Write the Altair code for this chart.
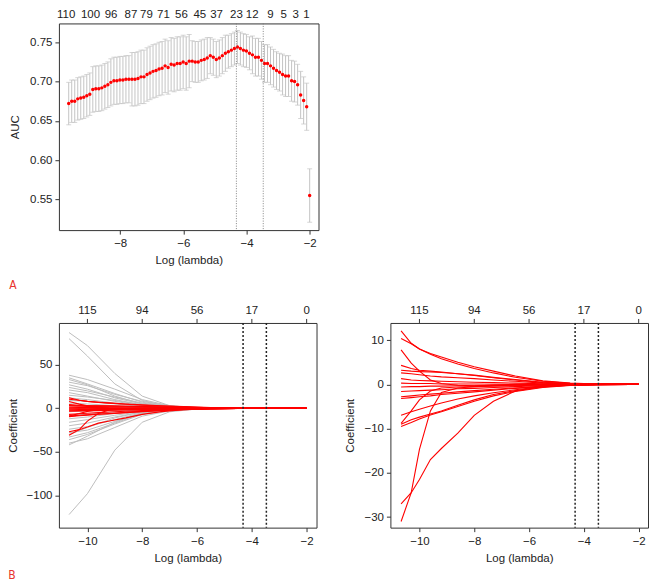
import altair as alt
import pandas as pd

FONT = "Liberation Sans, Arial, sans-serif"
LFONT = "Liberation Sans Narrow, DejaVu Sans Condensed, sans-serif"
FS = 11.5
INK = "#222222"

# ---------------- Panel A: cross-validated AUC ----------------
log_lambda = [-9.630, -9.535, -9.439, -9.344, -9.249, -9.153, -9.058, -8.962, -8.867, -8.772,
              -8.676, -8.581, -8.486, -8.390, -8.295, -8.199, -8.104, -8.009, -7.913, -7.818,
              -7.723, -7.627, -7.532, -7.436, -7.341, -7.246, -7.150, -7.055, -6.960, -6.864,
              -6.769, -6.673, -6.578, -6.483, -6.387, -6.292, -6.196, -6.101, -6.006, -5.910,
              -5.815, -5.720, -5.624, -5.529, -5.433, -5.338, -5.243, -5.147, -5.052, -4.957,
              -4.861, -4.766, -4.670, -4.575, -4.480, -4.384, -4.289, -4.194, -4.098, -4.003,
              -3.907, -3.812, -3.717, -3.621, -3.526, -3.431, -3.335, -3.240, -3.144, -3.049,
              -2.954, -2.858, -2.763, -2.668, -2.572, -2.477, -2.381, -2.286, -2.191, -2.095,
              -2.000]
auc = [0.672, 0.675, 0.675, 0.678, 0.679, 0.680, 0.682, 0.684, 0.690, 0.691,
       0.691, 0.692, 0.694, 0.696, 0.699, 0.701, 0.701, 0.702, 0.702, 0.703,
       0.703, 0.703, 0.703, 0.704, 0.706, 0.706, 0.709, 0.711, 0.713, 0.714,
       0.716, 0.717, 0.720, 0.718, 0.722, 0.721, 0.723, 0.723, 0.725, 0.723,
       0.726, 0.726, 0.725, 0.725, 0.727, 0.728, 0.730, 0.733, 0.731, 0.728,
       0.730, 0.733, 0.736, 0.738, 0.740, 0.742, 0.744, 0.742, 0.740, 0.739,
       0.736, 0.734, 0.731, 0.731, 0.727, 0.723, 0.723, 0.720, 0.717, 0.714,
       0.712, 0.709, 0.707, 0.707, 0.701, 0.700, 0.696, 0.683, 0.676, 0.668,
       0.555]
auc_se = [0.027, 0.027, 0.027, 0.027, 0.027, 0.027, 0.027, 0.027, 0.029, 0.029,
          0.029, 0.029, 0.029, 0.029, 0.030, 0.030, 0.030, 0.030, 0.030, 0.030,
          0.030, 0.034, 0.034, 0.034, 0.034, 0.034, 0.034, 0.034, 0.034, 0.034,
          0.034, 0.034, 0.034, 0.034, 0.034, 0.034, 0.034, 0.034, 0.034, 0.034,
          0.034, 0.026, 0.026, 0.026, 0.026, 0.026, 0.026, 0.023, 0.023, 0.023,
          0.023, 0.023, 0.023, 0.021, 0.021, 0.021, 0.021, 0.021, 0.021, 0.021,
          0.021, 0.024, 0.024, 0.024, 0.024, 0.024, 0.024, 0.024, 0.024, 0.024,
          0.024, 0.026, 0.026, 0.026, 0.026, 0.026, 0.026, 0.030, 0.030, 0.030,
          0.034]
top_a_pos = [-9.71, -8.94, -8.29, -7.66, -7.17, -6.63, -6.06, -5.48, -4.95, -4.32,
             -3.82, -3.24, -2.82, -2.44, -2.10]
top_a_lab = ["110", "100", "96", "87", "79", "71", "56", "45", "37", "23",
             "12", "9", "5", "3", "1"]
cut_lines = [-4.32, -3.47]

# ---------------- Panel B: coefficient paths ----------------
gray_x = [-10.67, -10.0, -9.0, -8.0, -7.0, -6.0, -5.5]
gray_paths = [
    [87, 72, 40, 14, 3, 0.5, 0],
    [80, 60, 28, 9, 2, 0.3, 0],
    [38, 33, 22, 10, 3, 0.5, 0],
    [35, 28, 17, 7, 2, 0.3, 0],
    [33, 27, 14, 5, 1.2, 0.2, 0],
    [30, 26, 16, 8, 2.5, 0.5, 0],
    [27, 22, 12, 5, 1.5, 0.3, 0],
    [24, 20, 13, 6, 2, 0.4, 0],
    [21, 18, 10, 4, 1, 0.2, 0],
    [18, 14, 8, 3, 1, 0.2, 0],
    [15, 13, 9, 4, 1.5, 0.3, 0],
    [12, 10, 6, 2.5, 0.8, 0.1, 0],
    [9, 8, 5, 2, 0.6, 0.1, 0],
    [6, 5, 3, 1.2, 0.4, 0.1, 0],
    [3, 3, 2, 1, 0.3, 0, 0],
    [-4, -3, -2, -1, -0.3, 0, 0],
    [-8, -7, -4, -1.5, -0.5, -0.1, 0],
    [-12, -10, -6, -2.5, -0.8, -0.1, 0],
    [-16, -13, -8, -3.5, -1, -0.2, 0],
    [-20, -17, -10, -4, -1.2, -0.2, 0],
    [-24, -21, -13, -5, -1.5, -0.3, 0],
    [-28, -25, -15, -6, -2, -0.4, 0],
    [-30, -22, -11, -4, -1, -0.2, 0],
    [-33, -28, -17, -6, -1.8, -0.3, 0],
    [-36, -30, -18, -7, -2, -0.4, 0],
    [-40, -35, -22, -9, -3, -0.6, 0],
    [-42, -32, -16, -5, -1.5, -0.3, 0],
    [-122, -98, -48, -16, -4, -0.8, 0],
]
red_x = [-10.67, -10.3, -10.0, -9.6, -9.2, -8.6, -8.0, -7.3, -6.5, -5.5, -4.5, -3.5, -2.3, -2.0]
red_paths = [
    [12.1, 9.3, 8.0, 7.0, 6.2, 5.0, 4.0, 3.0, 1.9, 0.8, 0.3, 0.1, 0, 0],
    [10.4, 9.2, 8.0, 6.8, 5.8, 4.6, 3.6, 2.6, 1.6, 0.7, 0.25, 0.05, 0, 0],
    [7.8, 4.8, 3.0, 1.0, 0.2, -0.2, -0.3, -0.2, -0.1, 0, 0, 0, 0, 0],
    [4.3, 3.6, 3.2, 3.0, 2.8, 2.4, 2.0, 1.5, 1.0, 0.4, 0.15, 0.05, 0, 0],
    [3.2, 3.0, 2.9, 2.8, 2.7, 2.4, 2.1, 1.6, 1.1, 0.5, 0.2, 0.05, 0, 0],
    [2.6, 2.4, 2.2, 1.9, 1.7, 1.5, 1.3, 1.0, 0.7, 0.3, 0.1, 0, 0, 0],
    [1.3, 1.0, 0.9, 0.8, 0.7, 0.6, 0.5, 0.4, 0.3, 0.15, 0.05, 0, 0, 0],
    [0.3, 0.2, 0.2, 0.2, 0.1, 0.1, 0.1, 0.05, 0, 0, 0, 0, 0, 0],
    [-0.6, -0.5, -0.5, -0.4, -0.4, -0.3, -0.3, -0.2, -0.1, -0.05, 0, 0, 0, 0],
    [-1.6, -1.5, -1.4, -1.3, -1.2, -1.0, -0.9, -0.7, -0.5, -0.25, -0.1, 0, 0, 0],
    [-2.8, -2.6, -2.4, -2.2, -2.0, -1.7, -1.4, -1.1, -0.8, -0.4, -0.15, -0.05, 0, 0],
    [-3.2, -3.0, -2.8, -2.6, -2.3, -2.0, -1.7, -1.3, -0.9, -0.45, -0.15, -0.05, 0, 0],
    [-7.0, -6.2, -5.6, -4.9, -4.2, -3.3, -2.6, -1.9, -1.2, -0.5, -0.2, -0.05, 0, 0],
    [-8.8, -6.0, -3.5, -1.5, -0.8, -0.6, -0.5, -0.4, -0.3, -0.15, -0.05, 0, 0, 0],
    [-9.0, -8.0, -7.4, -6.7, -6.0, -4.7, -3.5, -2.3, -1.4, -0.6, -0.2, -0.05, 0, 0],
    [-9.5, -8.6, -7.8, -6.9, -6.2, -5.0, -3.8, -2.6, -1.6, -0.7, -0.25, -0.05, 0, 0],
    [-27.0, -24.5, -21.5, -17.0, -14.5, -11.0, -7.0, -3.8, -1.5, -0.5, -0.15, 0, 0, 0],
    [-31.0, -24.5, -14.7, -6.0, -1.8, -0.8, -0.5, -0.3, -0.15, -0.05, 0, 0, 0, 0],
]
top_b_pos = [-10, -8, -6, -4, -2]
top_b_lab = ["115", "94", "56", "17", "0"]


def long_paths(xs, paths, prefix):
    rows = []
    for k, p in enumerate(paths):
        for i, (x, v) in enumerate(zip(xs, p)):
            rows.append({"id": f"{prefix}{k}", "o": i, "x": x, "coef": v})
    return pd.DataFrame(rows)


df_gray = long_paths(gray_x, gray_paths, "g")
df_red = long_paths(red_x, red_paths, "r")

dfA = pd.DataFrame({"x": log_lambda, "auc": auc,
                    "lo": [a - s for a, s in zip(auc, auc_se)],
                    "hi": [a + s for a, s in zip(auc, auc_se)]})
df_cut = pd.DataFrame({"x": cut_lines})
df_topA = pd.DataFrame({"x": top_a_pos, "lab": top_a_lab})
df_topB = pd.DataFrame({"x": top_b_pos, "lab": top_b_lab})

axis_common = dict(labelFont=FONT, labelFontSize=FS, labelColor=INK, tickColor="#333",
                   tickSize=4, domain=False, grid=False, titleFont=FONT,
                   titleFontSize=FS, titleFontWeight="normal", titleColor=INK)

# ---- Panel A ----
xA_scale = alt.Scale(domain=[-9.94, -1.72], nice=False, zero=False)
yA_scale = alt.Scale(domain=[0.511, 0.774], nice=False, zero=False)
xA_axis = alt.Axis(values=[-8, -6, -4, -2], title="Log (lambda)",
                   labelPadding=3, titlePadding=6, **axis_common)
yA_axis = alt.Axis(values=[0.55, 0.60, 0.65, 0.70, 0.75], format=".2f", title="AUC",
                   labelPadding=3, titlePadding=9, **axis_common)


def xa():
    return alt.X("x:Q", scale=xA_scale, axis=xA_axis)


def ya(field):
    return alt.Y(field, scale=yA_scale, axis=yA_axis)


errA = alt.Chart(dfA).mark_rule(color="#c4c4c4", strokeWidth=1).encode(
    x=xa(), y=ya("lo:Q"), y2="hi:Q")
capLo = alt.Chart(dfA).mark_tick(color="#c4c4c4", orient="horizontal", size=5, thickness=1).encode(
    x=xa(), y=ya("lo:Q"))
capHi = alt.Chart(dfA).mark_tick(color="#c4c4c4", orient="horizontal", size=5, thickness=1).encode(
    x=xa(), y=ya("hi:Q"))
ptsA = alt.Chart(dfA).mark_circle(color="#ff0000", size=12, opacity=1).encode(
    x=xa(), y=ya("auc:Q"))
cutA = alt.Chart(df_cut).mark_rule(color="#777", strokeDash=[1, 1.5], strokeWidth=0.9).encode(
    x=xa())
topA = alt.Chart(df_topA).mark_text(font=FONT, fontSize=FS, color=INK, baseline="middle").encode(
    x=xa(), y=alt.value(-8), text="lab:N")
labA = alt.Chart(pd.DataFrame({"t": ["A"]})).mark_text(
    font=LFONT, fontSize=12, color="#e8342e", baseline="middle", align="center").encode(
    x=alt.value(-46), y=alt.value(262), text="t:N")

panelA = alt.layer(errA, capLo, capHi, ptsA, cutA, topA, labA).properties(width=260, height=207)


# ---- Panel B helper ----
def coef_panel(xdom, ydom, yvals, with_gray, letter):
    xs = alt.Scale(domain=xdom, nice=False, zero=False)
    ys = alt.Scale(domain=ydom, nice=False, zero=False)
    bottom_axis = alt.Axis(values=[-10, -8, -6, -4, -2], title="Log (lambda)", labelPadding=4,
                           titlePadding=5, **axis_common)
    left_axis = alt.Axis(values=yvals, title="Coefficient", labelPadding=3, titlePadding=8,
                         **axis_common)

    def xb():
        return alt.X("x:Q", scale=xs, axis=bottom_axis)

    def yb():
        return alt.Y("coef:Q", scale=ys, axis=left_axis)

    layers = []
    if with_gray:
        layers.append(alt.Chart(df_gray).mark_line(color="#bebebe", strokeWidth=1).encode(
            x=xb(), y=yb(), detail="id:N", order="o:Q"))
    layers.append(alt.Chart(df_red).mark_line(color="#ff0000", strokeWidth=1.1).encode(
        x=xb(), y=yb(), detail="id:N", order="o:Q"))
    layers.append(alt.Chart(df_cut).mark_rule(color="#222", strokeDash=[2, 2], strokeWidth=1.5).encode(
        x=xb()))
    # top axis: ticks and labels (number of non-zero coefficients)
    layers.append(alt.Chart(df_topB).mark_rule(color="#333", strokeWidth=1).encode(
        x=xb(), y=alt.value(-4), y2=alt.value(0)))
    layers.append(alt.Chart(df_topB).mark_text(font=FONT, fontSize=FS, color=INK,
                                                baseline="middle").encode(
        x=xb(), y=alt.value(-12), text="lab:N"))
    if letter:
        layers.append(alt.Chart(pd.DataFrame({"t": [letter]})).mark_text(
            font=LFONT, fontSize=12, color="#e8342e", baseline="middle", align="center").encode(
            x=alt.value(-47), y=alt.value(252), text="t:N"))
    return alt.layer(*layers).properties(width=258, height=205)


panelB1 = coef_panel([-11.04, -1.64], [-137, 98], [-100, -50, 0, 50], True, "B")
panelB2 = coef_panel([-11.06, -1.66], [-32.4, 13.9], [-30, -20, -10, 0, 10], False, None)

chart = alt.vconcat(
    panelA,
    alt.hconcat(panelB1, panelB2, spacing=26),
    spacing=12,
).properties(
    padding={"left": -2, "top": 0, "right": 0, "bottom": 0}
).configure_view(stroke="#333", strokeWidth=1)

chart.save("out.html", embed_options={"renderer": "svg", "actions": False})
